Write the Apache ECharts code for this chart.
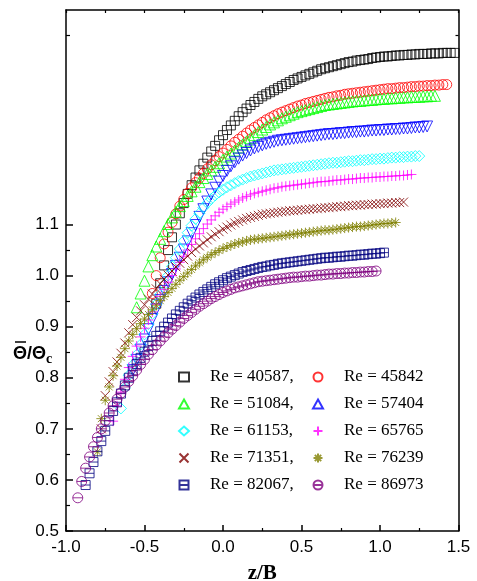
<!DOCTYPE html>
<html><head><meta charset="utf-8">
<script src="https://cdn.jsdelivr.net/npm/echarts@6/dist/echarts.min.js"></script>
<style>html,body{margin:0;padding:0;background:#fff}#c{width:477px;height:581px}</style>
</head><body><div id="c"></div>
<script>
// shared z/B grid of the measurements
const zGrid = [-0.95,-0.925,-0.9,-0.875,-0.85,-0.825,-0.8,-0.775,-0.75,-0.725,-0.7,-0.675,-0.65,-0.625,-0.6,-0.575,-0.55,-0.525,-0.5,-0.475,-0.45,-0.425,-0.4,-0.375,-0.35,-0.325,-0.3,-0.275,-0.25,-0.225,-0.2,-0.175,-0.15,-0.125,-0.1,-0.075,-0.05,-0.025,0,0.025,0.05,0.075,0.1,0.125,0.15,0.175,0.2,0.225,0.25,0.275,0.3,0.325,0.35,0.375,0.4,0.425,0.45,0.475,0.5,0.525,0.55,0.575,0.6,0.625,0.65,0.675,0.7,0.725,0.75,0.775,0.8,0.825,0.85,0.875,0.9,0.925,0.95,0.975,1,1.025,1.05,1.075,1.1,1.125,1.15,1.175,1.2,1.225,1.25,1.275,1.3,1.325,1.35,1.375,1.4,1.425,1.45,1.475,1.5];

const reNames = ['Re = 40587,','Re = 45842','Re = 51084,','Re = 57404','Re = 61153,','Re = 65765','Re = 71351,','Re = 76239','Re = 82067,','Re = 86973'];
// first z/B value of each series
const startZ = [-0.425,-0.45,-0.55,-0.575,-0.65,-0.7,-0.775,-0.8,-0.875,-0.925];

const re40587 = [0.945,0.985,1.02,1.05,1.075,1.1,1.122,1.142,1.16,1.177,1.192,1.206,1.219,1.231,1.243,1.254,1.265,
1.275,1.285,1.294,1.303,1.312,1.32,1.327,1.334,1.34,1.346,1.351,1.355,1.359,1.363,1.367,1.371,1.375,1.379,1.383,1.386,1.389,1.392,1.395,1.398,1.401,1.404,1.406,1.408,1.41,1.412,1.414,1.416,1.418,1.419,1.421,1.422,1.423,1.424,1.426,1.427,1.428,1.429,1.429,1.43,1.431,1.431,1.432,1.432,1.433,1.433,1.434,1.434,1.434,1.435,1.435,1.435,1.436,1.436,1.436,1.436];
const re45842 = [0.965,1.0,1.035,1.062,1.085,1.104,1.121,1.136,1.149,1.161,1.172,1.182,1.191,1.2,1.209,1.217,1.225,1.233,
1.24,1.247,1.254,1.261,1.267,1.273,1.279,1.285,1.29,1.295,1.3,1.305,1.309,1.313,1.317,1.32,1.323,1.326,1.329,1.332,1.334,1.337,1.339,1.341,1.343,1.345,1.347,1.349,1.35,1.352,1.353,1.355,1.356,1.357,1.358,1.359,1.36,1.361,1.362,1.363,1.364,1.365,1.366,1.366,1.367,1.368,1.368,1.369,1.37,1.37,1.371,1.371,1.372,1.372,1.373,1.373,1.374,1.374];
const re51084 = [0.938,0.965,0.99,1.018,1.04,1.057,1.072,1.087,1.101,1.114,1.125,1.136,1.146,1.156,1.165,1.174,1.183,1.191,1.199,1.206,1.213,1.22,
1.227,1.233,1.239,1.245,1.251,1.257,1.263,1.269,1.275,1.281,1.286,1.291,1.296,1.3,1.304,1.308,1.311,1.314,1.317,1.32,1.322,1.324,1.326,1.328,1.33,1.332,1.334,1.335,1.336,1.337,1.338,1.339,1.34,1.341,1.342,1.342,1.343,1.344,1.344,1.345,1.346,1.346,1.347,1.347,1.348,1.348,1.349,1.349,1.35,1.35,1.35,1.351,1.351,1.352,1.352];
const re57404 = [0.815,0.835,0.855,0.875,0.895,0.915,0.934,0.952,0.97,0.987,1.003,1.019,1.035,1.051,1.067,1.083,1.099,1.115,1.13,1.145,1.159,1.172,1.184,
1.195,1.205,1.214,1.222,1.229,1.235,1.24,1.245,1.249,1.252,1.255,1.258,1.26,1.262,1.264,1.265,1.266,1.267,1.268,1.269,1.27,1.271,1.272,1.273,1.274,1.275,1.276,1.277,1.277,1.278,1.279,1.279,1.28,1.281,1.281,1.282,1.282,1.283,1.284,1.284,1.285,1.285,1.286,1.286,1.287,1.287,1.288,1.288,1.289,1.29,1.29,1.291,1.292];
const re61153 = [0.74,0.78,0.805,0.825,0.845,0.865,0.885,0.905,0.925,0.944,0.963,0.982,1.0,1.018,1.035,1.052,1.068,1.084,1.098,1.111,1.122,1.133,1.142,1.15,1.157,1.163,
1.168,1.173,1.177,1.181,1.185,1.188,1.191,1.194,1.196,1.198,1.2,1.202,1.204,1.206,1.207,1.208,1.209,1.21,1.211,1.212,1.213,1.214,1.215,1.216,1.217,1.218,1.219,1.22,1.221,1.221,1.222,1.223,1.224,1.224,1.225,1.226,1.226,1.227,1.228,1.228,1.229,1.229,1.23,1.231,1.231,1.232,1.232,1.233,1.233,1.234,1.234];
const re65765 = [0.715,0.745,0.772,0.797,0.82,0.842,0.862,0.88,0.897,0.913,0.929,0.944,0.959,0.973,0.987,1.0,1.013,1.026,1.038,1.05,1.061,1.072,1.082,1.092,1.101,1.109,1.117,1.124,
1.13,1.135,1.14,1.144,1.148,1.152,1.155,1.158,1.161,1.163,1.165,1.167,1.169,1.171,1.172,1.174,1.175,1.176,1.177,1.178,1.179,1.18,1.181,1.182,1.183,1.184,1.184,1.185,1.186,1.187,1.187,1.188,1.189,1.189,1.19,1.191,1.191,1.192,1.192,1.193,1.193,1.194,1.194,1.195,1.195,1.196,1.196,1.197,1.198];
const re71351 = [0.70,0.765,0.792,0.812,0.831,0.848,0.868,0.888,0.904,0.918,0.931,0.943,0.954,0.964,0.974,0.984,0.993,1.001,1.009,1.017,1.024,1.031,1.038,1.045,1.052,1.058,1.064,1.07,1.076,1.081,1.086,
1.091,1.095,1.099,1.103,1.106,1.109,1.112,1.114,1.116,1.118,1.12,1.121,1.122,1.123,1.124,1.125,1.126,1.127,1.127,1.128,1.129,1.129,1.13,1.131,1.131,1.132,1.133,1.133,1.134,1.135,1.135,1.136,1.137,1.137,1.138,1.138,1.139,1.139,1.14,1.14,1.141,1.141,1.142,1.142,1.143,1.143,1.144];
const re76239 = [0.655,0.72,0.756,0.782,0.804,0.823,0.84,0.857,0.872,0.885,0.896,0.906,0.915,0.924,0.933,0.942,0.951,0.959,0.967,0.975,0.983,0.991,0.998,1.005,1.012,1.019,1.025,1.031,1.036,1.041,1.045,1.049,
1.053,1.056,1.059,1.062,1.064,1.066,1.068,1.07,1.071,1.072,1.073,1.074,1.075,1.076,1.077,1.078,1.079,1.08,1.081,1.082,1.083,1.084,1.085,1.086,1.087,1.088,1.089,1.089,1.09,1.091,1.092,1.093,1.094,1.095,1.096,1.096,1.097,1.098,1.099,1.1,1.101,1.102,1.102,1.103,1.104];
const re82067 = [0.59,0.613,0.635,0.656,0.676,0.696,0.716,0.735,0.752,0.769,0.785,0.8,0.814,0.827,0.839,0.851,0.862,0.872,0.882,0.891,0.9,0.908,0.916,0.924,0.931,0.938,0.945,0.951,0.957,0.963,0.968,0.973,0.978,0.983,0.987,
0.991,0.995,0.998,1.001,1.004,1.007,1.009,1.011,1.013,1.015,1.017,1.018,1.02,1.021,1.023,1.024,1.025,1.026,1.027,1.028,1.029,1.03,1.031,1.032,1.033,1.034,1.035,1.035,1.036,1.037,1.037,1.038,1.039,1.039,1.04,1.041,1.041,1.042,1.043,1.043,1.044,1.045];
const re86973 = [0.565,0.597,0.623,0.645,0.665,0.683,0.7,0.716,0.731,0.745,0.758,0.77,0.782,0.793,0.804,0.815,0.826,0.836,0.846,0.855,0.864,0.872,0.88,0.888,0.895,0.902,0.909,0.916,0.922,0.928,0.934,0.94,0.945,0.95,0.955,0.959,0.963,
0.967,0.97,0.973,0.976,0.978,0.98,0.982,0.984,0.986,0.988,0.989,0.99,0.991,0.992,0.993,0.994,0.995,0.996,0.997,0.997,0.998,0.999,0.999,1.0,1.001,1.001,1.002,1.003,1.003,1.004,1.004,1.005,1.005,1.006,1.006,1.007,1.007,1.008,1.008,1.009];

const seriesValues = [re40587,re45842,re51084,re57404,re61153,re65765,re71351,re76239,re82067,re86973];
const colors = ['#000000','#ff0000','#00ff00','#0000ff','#00ffff','#ff00ff','#800000','#808000','#000080','#800080'];
const symbols = ['rect','circle','triangle','triangle','diamond',
  'path://M5 0L5 10M0 5L10 5',
  'path://M0 0L10 10M10 0L0 10',
  'path://M5 0L5 10M0 5L10 5M1.5 1.5L8.5 8.5M8.5 1.5L1.5 8.5',
  'path://M0 0L10 0L10 10L0 10ZM0 5L10 5',
  'path://M0 5A5 5 0 1 1 10 5A5 5 0 1 1 0 5ZM0 5L10 5'];
const rotations = [0,0,0,180,0,0,0,0,0,0];
const sizes = [9,10,11,11,11,10,9,10,9,10];

const yMajor = [0.5,0.6,0.7,0.8,0.9,1.0,1.1];
const yMinor = [0.55,0.65,0.75,0.85,0.95,1.05,1.47];

const series = seriesValues.map((vals, s) => {
  const i0 = zGrid.findIndex(z => Math.abs(z - startZ[s]) < 1e-9);
  const data = vals.map((v, k) => [zGrid[i0 + k], v]).filter(p => p[0] !== undefined);
  return {
    name: reNames[s], type: 'scatter', data,
    symbol: symbols[s], symbolSize: sizes[s], symbolRotate: rotations[s],
    itemStyle: {color: 'rgba(255,255,255,0)', borderColor: colors[s], borderWidth: 1},
    emphasis: {disabled: true}, silent: true
  };
});

const lineStyle = {color: '#000', width: 1.5};
const legendBase = {
  orient: 'vertical', top: 367, itemWidth: 10, itemHeight: 9, itemGap: 7, padding: 0,
  selectedMode: false,
  textStyle: {fontFamily: 'Liberation Serif', fontSize: 17, color: '#000', lineHeight: 20, padding: [0,0,0,16]}
};

const chart = echarts.init(document.getElementById('c'), null, {renderer: 'canvas'});
chart.setOption({
  animation: false,
  backgroundColor: '#fff',
  grid: {left: 66, right: 18.5, top: 10, bottom: 50, containLabel: false, outerBoundsMode: 'none'},
  legend: [
    Object.assign({}, legendBase, {left: 178, data: [reNames[0],reNames[2],reNames[4],reNames[6],reNames[8]]}),
    Object.assign({}, legendBase, {left: 312, data: [reNames[1],reNames[3],reNames[5],reNames[7],reNames[9]]})
  ],
  xAxis: [
    {type: 'value', min: -1, max: 1.5, interval: 0.5, position: 'bottom',
     axisLine: {onZero: false, lineStyle},
     axisTick: {inside: true, length: 6, lineStyle},
     minorTick: {show: true, splitNumber: 2, length: 3, lineStyle: {color: '#000', width: 1.2}},
     splitLine: {show: false},
     axisLabel: {color: '#000', fontFamily: 'Liberation Sans', fontSize: 17, margin: 8, formatter: v => v.toFixed(1)},
     name: 'z/B', nameLocation: 'middle', nameGap: 32,
     nameTextStyle: {fontFamily: 'Liberation Serif', fontWeight: 'bold', fontSize: 21, color: '#000'}},
    {type: 'value', min: -1, max: 1.5, interval: 0.25, position: 'top',
     axisLine: {onZero: false, lineStyle},
     axisTick: {inside: true, length: 3, lineStyle: {color: '#000', width: 1.2}},
     axisLabel: {show: false}, splitLine: {show: false}}
  ],
  yAxis: [
    {type: 'value', min: 0.5, max: 1.52, position: 'left',
     axisLine: {onZero: false, lineStyle},
     axisTick: {inside: true, length: 7, customValues: yMajor, lineStyle},
     axisLabel: {customValues: yMajor, color: '#000', fontFamily: 'Liberation Sans', fontSize: 17, margin: 7, formatter: v => v.toFixed(1)},
     splitLine: {show: false}},
    {type: 'value', min: 0.5, max: 1.52, position: 'left',
     axisLine: {show: false, onZero: false},
     axisTick: {inside: true, length: 4, customValues: yMinor, lineStyle: {color: '#000', width: 1.2}},
     axisLabel: {show: false}, splitLine: {show: false}},
    {type: 'value', min: 0.5, max: 1.52, position: 'right',
     axisLine: {onZero: false, lineStyle},
     axisTick: {inside: true, length: 3, customValues: [1.47], lineStyle: {color: '#000', width: 1.2}},
     axisLabel: {show: false}, splitLine: {show: false}}
  ],
  graphic: [
    {type: 'text', left: 13, top: 345, style: {text: 'Θ/Θ', font: 'bold 18px "Liberation Sans"', fill: '#000'}},
    {type: 'text', left: 46, top: 352, style: {text: 'c', font: 'bold 14px "Liberation Serif"', fill: '#000'}},
    {type: 'line', shape: {x1: 15, y1: 342, x2: 26, y2: 342}, style: {stroke: '#000', lineWidth: 1.5}}
  ],
  series
});
</script>
</body></html>
